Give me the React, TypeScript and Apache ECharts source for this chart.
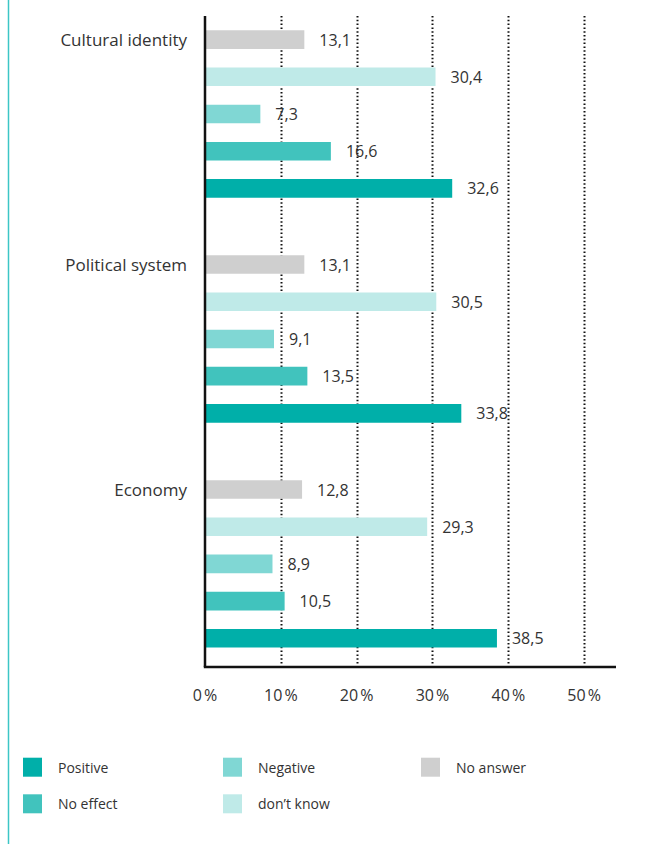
import React, { useEffect, useRef } from "react";
import * as echarts from "echarts";

const categories = ["Cultural identity", "Political system", "Economy"];
const seriesNames = ["No answer", "don’t know", "Negative", "No effect", "Positive"];
const noAnswer = [13.1, 13.1, 12.8];
const dontKnow = [30.4, 30.5, 29.3];
const negative = [7.3, 9.1, 8.9];
const noEffect = [16.6, 13.5, 10.5];
const positive = [32.6, 33.8, 38.5];
const seriesValues = [noAnswer, dontKnow, negative, noEffect, positive];
const seriesColors = ["#cfcfcf", "#bfeae8", "#80d7d4", "#41c3bd", "#00afa9"];
const gridTicks = [10, 20, 30, 40, 50];

const FONT = "'Open Sans', 'Noto Sans', sans-serif";

export default function App() {
  const ref = useRef<HTMLDivElement>(null);
  useEffect(() => {
    if (!ref.current) return;
    const chart = echarts.init(ref.current, null, { renderer: "svg" });
    const legendCommon = {
      orient: "vertical",
      top: 757.7,
      itemWidth: 19,
      itemHeight: 19,
      itemGap: 17.6,
      padding: 0,
      icon: "rect",
      selectedMode: false,
      textStyle: { fontFamily: FONT, fontSize: 14, color: "#333", padding: [0, 0, 12, 11] },
    };
    const option: any = {
      animation: false,
      backgroundColor: "#fff",
      grid: { left: 205, right: 49, top: 1.5, bottom: 167.6, containLabel: false },
      legend: [
        { ...legendCommon, left: 23, data: ["Positive", "No effect"] },
        { ...legendCommon, left: 223, data: ["Negative", "don’t know"] },
        { ...legendCommon, left: 421, data: ["No answer"] },
      ],
      xAxis: {
        type: "value",
        min: 0,
        max: 54.2,
        interval: 10,
        axisLine: { show: false },
        axisTick: { show: false },
        splitLine: { show: false },
        axisLabel: {
          showMaxLabel: false,
          margin: 11,
          fontFamily: FONT,
          fontSize: 16,
          color: "#333",
          formatter: (v: number) => (v % 10 === 0 ? `${v}\u202f%` : ""),
        },
      },
      yAxis: {
        type: "category",
        inverse: true,
        data: categories,
        axisLine: { show: false },
        axisTick: { show: false },
        splitLine: { show: false },
        axisLabel: {
          margin: 18,
          fontFamily: FONT,
          fontSize: 17,
          lineHeight: 37,
          color: "#333",
          formatter: (v: string) => `${v}\n \n \n \n `,
        },
      },
      series: seriesNames.map((name, i) => ({
        name,
        type: "bar",
        data: seriesValues[i],
        barWidth: 18.6,
        barGap: "100%",
        itemStyle: { color: seriesColors[i] },
        label: {
          show: true,
          position: "right",
          distance: 15,
          fontFamily: FONT,
          fontSize: 16,
          color: "#333",
          formatter: (p: any) => Number(p.value).toFixed(1).replace(".", ","),
        },
      })),
    };
    chart.setOption(option);

    const px = (v: number) => chart.convertToPixel({ xAxisIndex: 0 }, v) as number;
    const x0 = px(0);
    const xEnd = px(54.2);
    const yTop = 16;
    const yBottom = 667;
    const graphics: any[] = [
      {
        type: "line",
        shape: { x1: 8.5, y1: 0, x2: 8.5, y2: 844 },
        style: { stroke: "#3cc6c6", lineWidth: 1.5 },
      },
    ];
    gridTicks.forEach((t) => {
      const x = Math.round(px(t)) + 0.5;
      graphics.push({
        type: "line",
        shape: { x1: x, y1: yTop, x2: x, y2: yBottom - 2 },
        style: { stroke: "#111", lineWidth: 2, lineDash: [1.5, 2.3] },
        z: 1,
      });
    });
    graphics.push({
      type: "line",
      shape: { x1: x0, y1: yTop, x2: x0, y2: yBottom },
      style: { stroke: "#111", lineWidth: 2.5 },
      z: 10,
    });
    graphics.push({
      type: "line",
      shape: { x1: x0 - 1.2, y1: yBottom, x2: xEnd, y2: yBottom },
      style: { stroke: "#111", lineWidth: 2.5 },
      z: 10,
    });
    chart.setOption({ graphic: graphics });

    return () => chart.dispose();
  }, []);
  return (
    <div
      ref={ref}
      style={{ position: "absolute", left: 0, top: 0, width: 665, height: 844 }}
    />
  );
}
